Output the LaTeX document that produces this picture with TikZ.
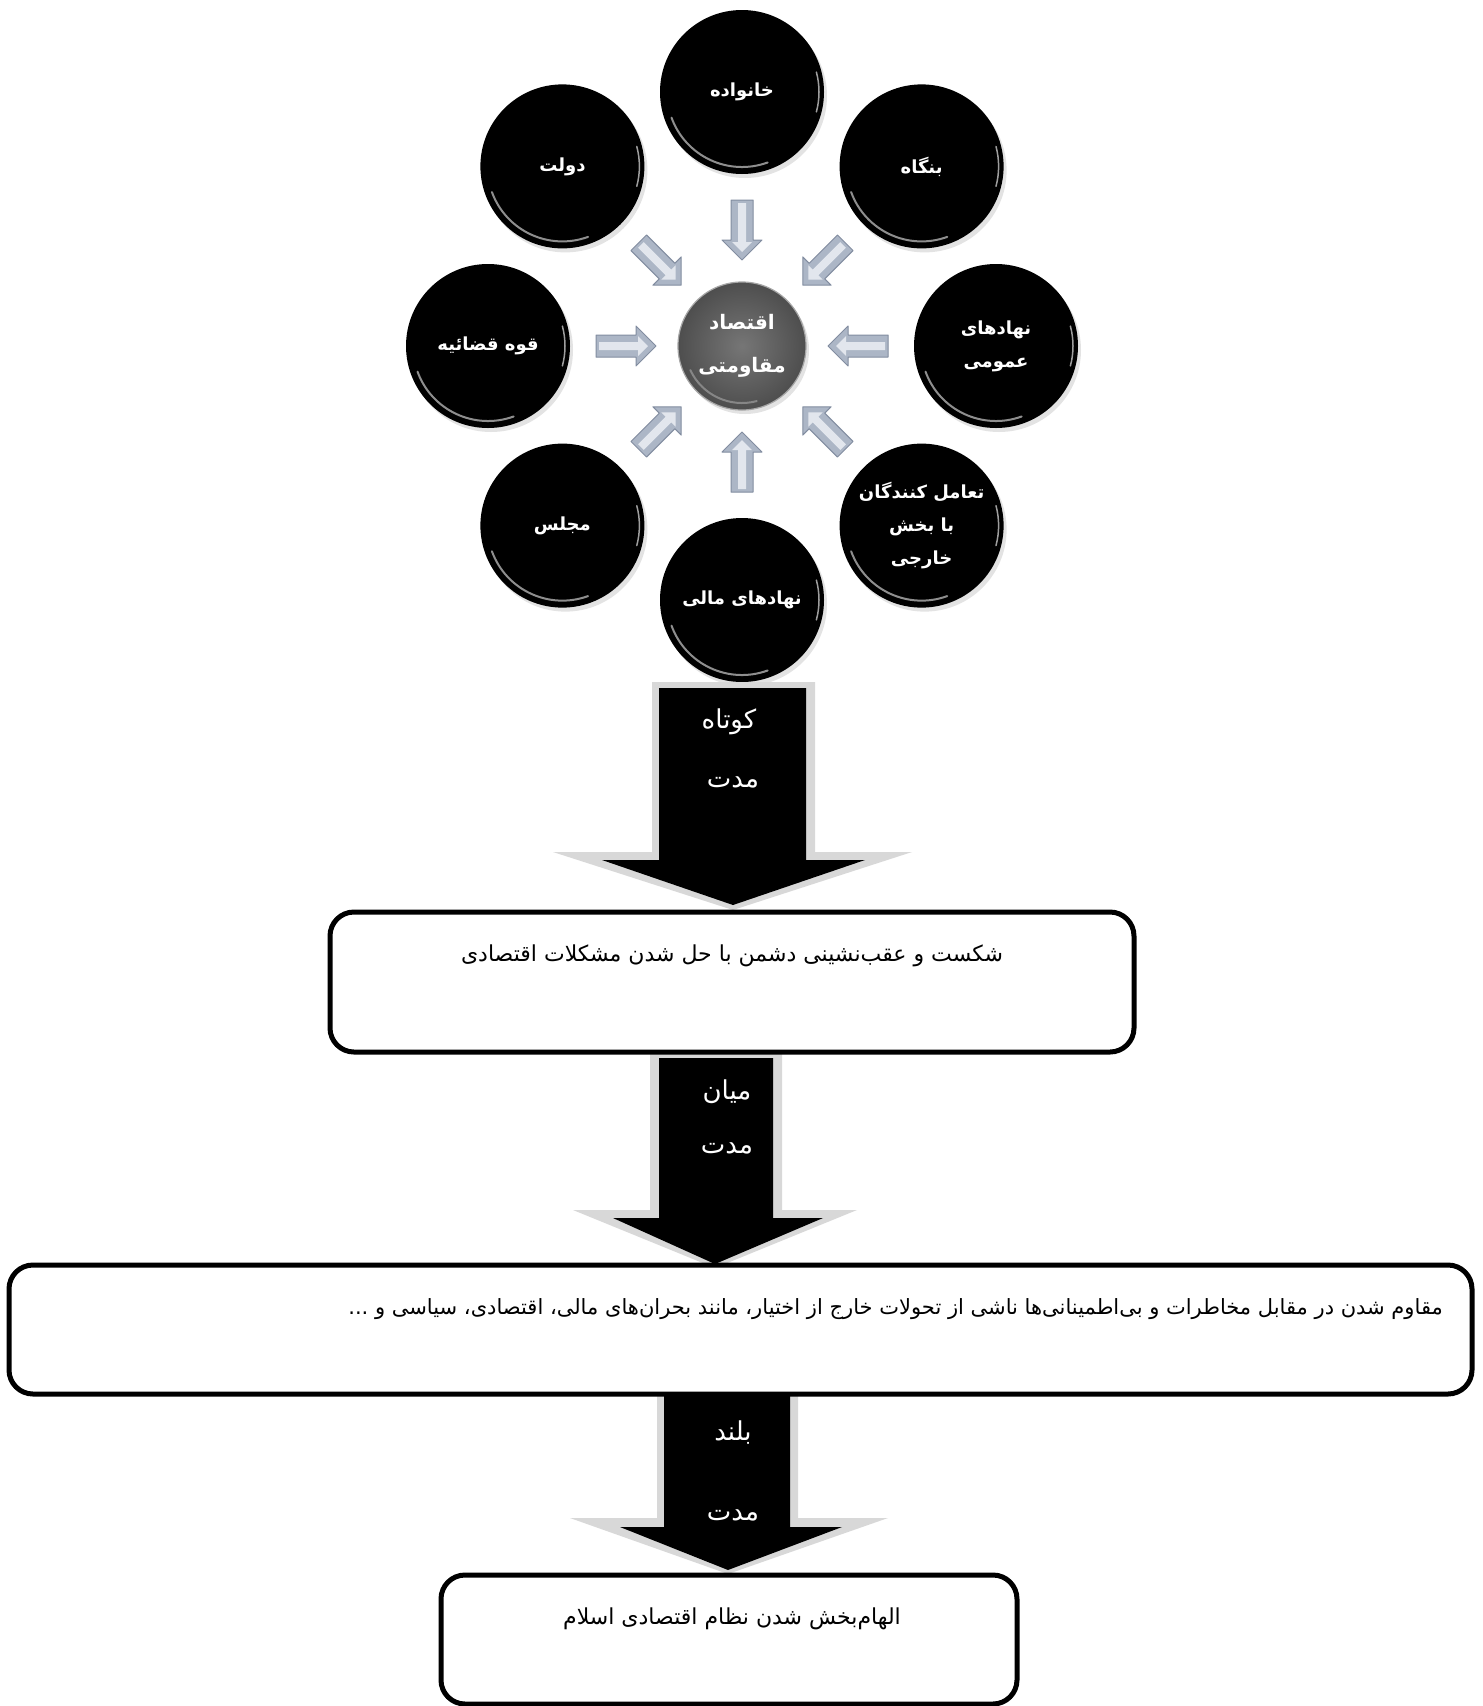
\documentclass[tikz,border=0pt]{standalone}
\usepackage{fontspec}
\usetikzlibrary{shadows,calc}
\TeXXeTstate=1
\newfontfamily\fa[Script=Arabic]{DejaVu Sans}
\newcommand\faR[1]{{\fa\beginR #1\endR}}
\definecolor{arrowedge}{RGB}{130,141,160}
\definecolor{arrowface}{RGB}{172,182,198}
\definecolor{arrowhi}{RGB}{226,230,237}
\definecolor{bigedge}{RGB}{216,216,216}
\definecolor{ctrin}{RGB}{118,118,118}
\definecolor{ctrout}{RGB}{78,78,78}
\begin{document}
\begin{tikzpicture}[x=1pt,y=1pt,
  ball/.style={circle, minimum size=164pt, inner sep=0pt, fill=black, text=white,
    font=\fa\bfseries\fontsize{18}{33}\selectfont, align=center,
    drop shadow={opacity=0.22, shadow xshift=3pt, shadow yshift=-4pt}},
  ctrball/.style={circle, minimum size=128pt, inner sep=0pt, shading=radial,
    inner color=ctrin, outer color=ctrout, draw=gray!70, line width=1.2pt, text=white,
    font=\fa\bfseries\fontsize{20}{43}\selectfont, align=center,
    drop shadow={opacity=0.22, shadow xshift=3pt, shadow yshift=-4pt}},
  gloss/.style={gray!60, line width=2pt, line cap=round, opacity=0.8},
  smallarr/.style={fill=arrowface, draw=arrowedge, line width=1pt, line join=round},
  smallhi/.style={fill=arrowhi},
  bigout/.style={fill=bigedge},
  bigin/.style={fill=black},
  biglabel/.style={text=white, font=\fa\fontsize{26}{30}\selectfont, inner sep=0pt},
  boxst/.style={draw=black, line width=5pt, rounded corners=24pt, fill=white, inner sep=0pt},
  boxtext/.style={text=black, font=\fa\fontsize{22}{26}\selectfont, inner sep=0pt}
]
\useasboundingbox (0,0) rectangle (1483,-1706);
\fill[white] (0,0) rectangle (1483,-1706);

% centre
\coordinate (c) at (742,-346);

% small arrows
\foreach \a in {0,45,...,315}{
  \begin{scope}[shift={(c)}, rotate=\a]
    \path[smallarr] (146,-11)--(106,-11)--(106,-20)--(86,0)--(106,20)--(106,11)--(146,11)--cycle;
    \path[smallhi] (143,-4)--(104,-4)--(104,-10)--(94,0)--(104,10)--(104,4)--(143,4)--cycle;
  \end{scope}
}

% outer circles
\node[ball] (khan)   at ($(c)+(90:254)$)  {\faR{خانواده}};
\node[ball] (dowlat) at ($(c)+(135:254)$) {\faR{دولت}};
\node[ball] (bongah) at ($(c)+(45:254)$)  {\faR{بنگاه}};
\node[ball] (ghove)  at ($(c)+(180:254)$) {\faR{قوه قضائیه}};
\node[ball] (nahad)  at ($(c)+(0:254)$)   {\faR{نهادهای}\\\faR{عمومی}};
\node[ball] (majles) at ($(c)+(225:254)$) {\faR{مجلس}};
\node[ball] (taamol) at ($(c)+(315:254)$) {\faR{تعامل کنندگان}\\\faR{با بخش}\\\faR{خارجی}};
\node[ball] (mali)   at ($(c)+(270:254)$) {\faR{نهادهای مالی}};
\foreach \n in {khan,dowlat,bongah,ghove,nahad,majles,taamol,mali}{
  \draw[gloss] ([shift={(200:75pt)}]\n.center) arc[start angle=200, end angle=290, radius=75pt];
  \draw[gloss, gray!45, line width=1.5pt] ([shift={(345:77pt)}]\n.center) arc[start angle=345, end angle=375, radius=77pt];
}

% centre circle
\node[ctrball] (ctr) at (c) {\faR{اقتصاد}\\\faR{مقاومتی}};
\draw[gloss, gray!85] ([shift={(205:57pt)}]ctr.center) arc[start angle=205, end angle=285, radius=57pt];

% big arrows
\path[bigout] (652,-682)--(815,-682)--(815,-852)--(912,-852)--(733,-910)--(553,-852)--(652,-852)--cycle;
\path[bigin]  (659,-688)--(806,-688)--(806,-860)--(865,-860)--(733,-905)--(602,-860)--(659,-860)--cycle;
\node[biglabel] (a1t) at (729,-722) {\faR{کوتاه}};
\node[biglabel] (a1b) at (733,-782) {\faR{مدت}};

\path[bigout] (650,-1053)--(782,-1053)--(782,-1210)--(857,-1210)--(715,-1268)--(573,-1210)--(650,-1210)--cycle;
\path[bigin]  (659,-1058)--(773,-1058)--(773,-1218)--(823,-1218)--(715,-1264)--(613,-1218)--(659,-1218)--cycle;
\node[biglabel] (a2t) at (727,-1092) {\faR{میان}};
\node[biglabel] (a2b) at (727,-1148) {\faR{مدت}};

\path[bigout] (657,-1392)--(798,-1392)--(798,-1518)--(888,-1518)--(728,-1574)--(570,-1518)--(657,-1518)--cycle;
\path[bigin]  (664,-1396)--(790,-1396)--(790,-1527)--(842,-1527)--(728,-1570)--(620,-1527)--(664,-1527)--cycle;
\node[biglabel] (a3t) at (733,-1433) {\faR{بلند}};
\node[biglabel] (a3b) at (733,-1515) {\faR{مدت}};

% boxes
\node[boxst, minimum width=804pt, minimum height=140pt] (b1) at (732,-982) {};
\node[boxtext] (b1t) at (732,-956) {\faR{شکست و عقب^^^^200cنشینی دشمن با حل شدن مشکلات اقتصادی}};

\node[boxst, minimum width=1463pt, minimum height=129pt] (b2) at (740.5,-1329.5) {};
\node[boxtext, anchor=east, font=\fa\fontsize{21}{25}\selectfont] (b2t) at (1443,-1309) {\faR{مقاوم شدن در مقابل مخاطرات و بی^^^^200cاطمینانی^^^^200cها ناشی از تحولات خارج از اختیار، مانند بحران^^^^200cهای مالی، اقتصادی، سیاسی و ...}};

\node[boxst, minimum width=576pt, minimum height=129pt] (b3) at (729,-1639.5) {};
\node[boxtext] (b3t) at (732,-1619) {\faR{الهام^^^^200cبخش شدن نظام اقتصادی اسلام}};
\end{tikzpicture}
\end{document}
